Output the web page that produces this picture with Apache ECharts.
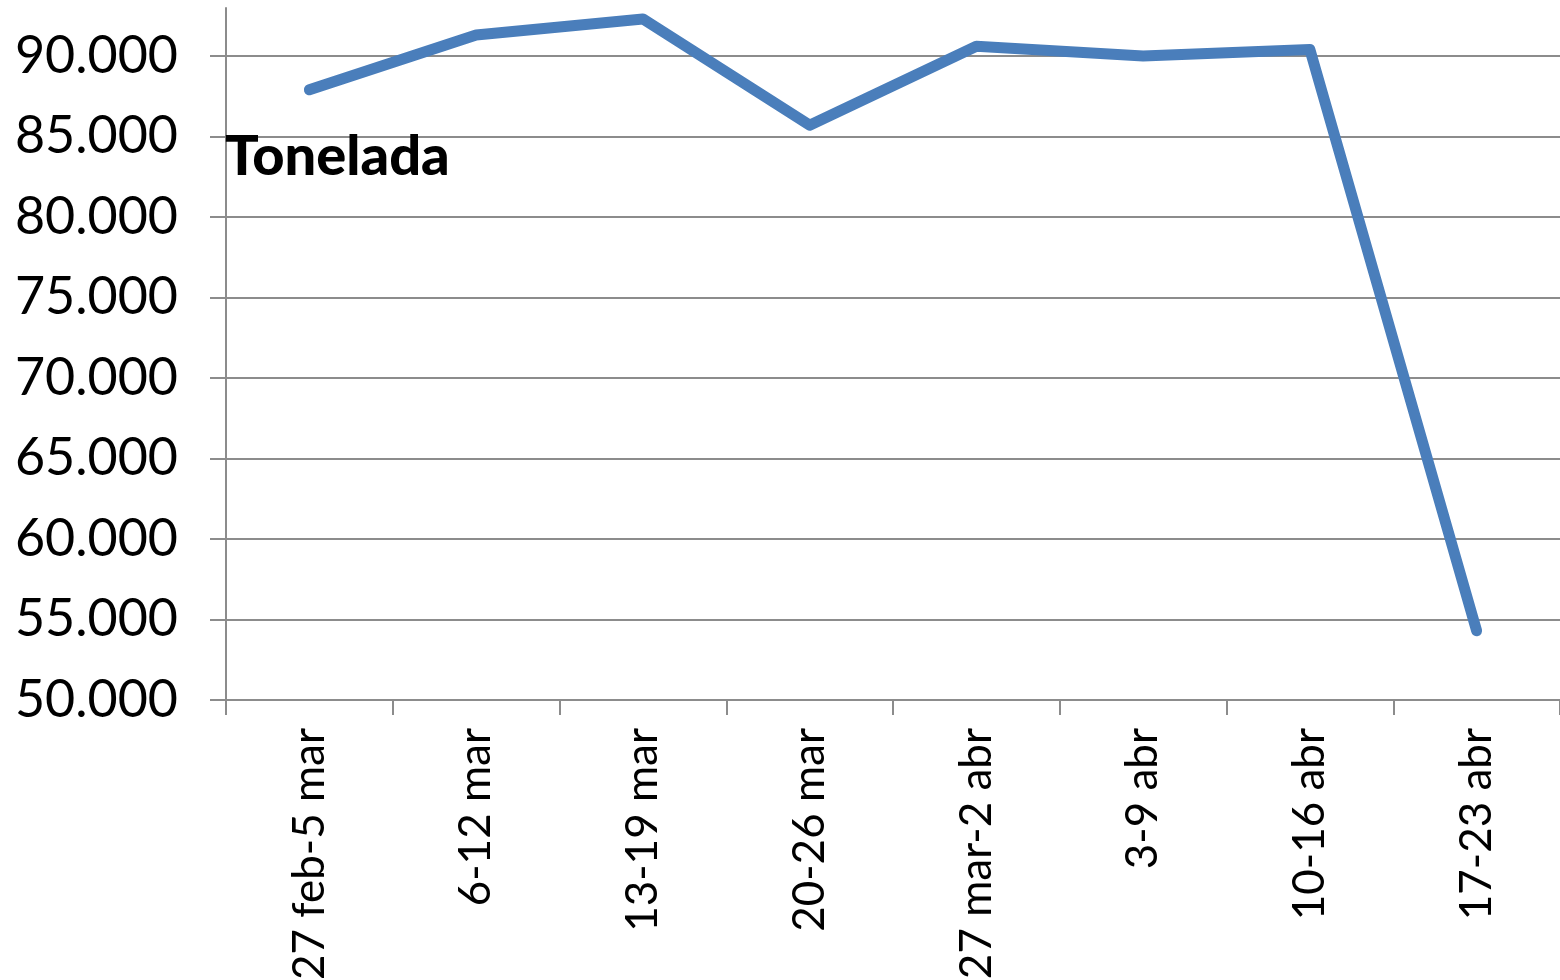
<html style="height: 100%">
	<head>
		<meta charset="utf-8">
	</head>
	<body style="height: 100%; width: 100%; margin: 0; background: #fff">
		<div id="container" style="height: 980px;width: 1560px;"></div>
		<script type="text/javascript" src="https://cdn.jsdelivr.net/npm/echarts@6/dist/echarts.min.js"></script>
		<script type="text/javascript">
			// weeks and tonnes
			var weeks = ['27 feb-5 mar', '6-12 mar', '13-19 mar', '20-26 mar', '27 mar-2 abr', '3-9 abr', '10-16 abr', '17-23 abr'];
			var tonnes = [87900, 91300, 92300, 85700, 90600, 90000, 90400, 54300];
			var yMin = 50000, yMax = 95000, yStep = 5000;

			var dom = document.getElementById("container");
			var myChart = echarts.init(dom);
			var axisGray = '#8c8c8c';
			var font = 'Lato';

			function fmt(v) {
				return String(v).replace(/\B(?=(\d{3})+(?!\d))/g, '.');
			}

			var option = {
				backgroundColor: '#ffffff',
				animation: false,
				title: {
					text: 'Tonelada',
					left: 220,
					top: 124,
					textStyle: {
						fontFamily: font,
						fontWeight: 900,
						fontSize: 56,
						color: '#000'
					}
				},
				grid: [
					{ left: 226, right: 0, top: -24.5, bottom: 280, outerBoundsMode: 'none', containLabel: false },
					// only used for the vertical axis line, which stops at the top
					{ left: 226, right: 0, top: 8, bottom: 280, outerBoundsMode: 'none', containLabel: false }
				],
				xAxis: [{
					type: 'category',
					gridIndex: 0,
					data: weeks,
					boundaryGap: true,
					axisLine: { lineStyle: { color: axisGray, width: 2 } },
					axisTick: { show: true, alignWithLabel: false, length: 15, lineStyle: { color: axisGray, width: 2 } },
					axisLabel: {
						rotate: 90,
						margin: 28,
						interval: 0,
						fontFamily: font,
						fontSize: 44,
						color: '#000'
					}
				}, {
					type: 'category',
					gridIndex: 1,
					data: weeks,
					show: false
				}],
				yAxis: [{
					type: 'value',
					gridIndex: 0,
					min: yMin,
					max: yMax,
					interval: yStep,
					axisLine: { show: false },
					axisTick: { show: true, length: 16, lineStyle: { color: axisGray, width: 2 } },
					splitLine: { show: true, lineStyle: { color: axisGray, width: 2 } },
					axisLabel: {
						margin: 48,
						fontFamily: font,
						fontSize: 52,
						color: '#000',
						formatter: fmt
					}
				}, {
					type: 'value',
					gridIndex: 1,
					min: yMin,
					max: 93000,
					axisLine: { show: true, lineStyle: { color: axisGray, width: 2 } },
					axisTick: { show: false },
					axisLabel: { show: false },
					splitLine: { show: false }
				}],
				series: [{
					type: 'line',
					xAxisIndex: 0,
					yAxisIndex: 0,
					data: tonnes,
					showSymbol: false,
					lineStyle: { color: '#4a7ebb', width: 11, cap: 'round', join: 'round' },
					itemStyle: { color: '#4a7ebb' }
				}]
			};

			myChart.setOption(option);
		</script>
	</body>
</html>
